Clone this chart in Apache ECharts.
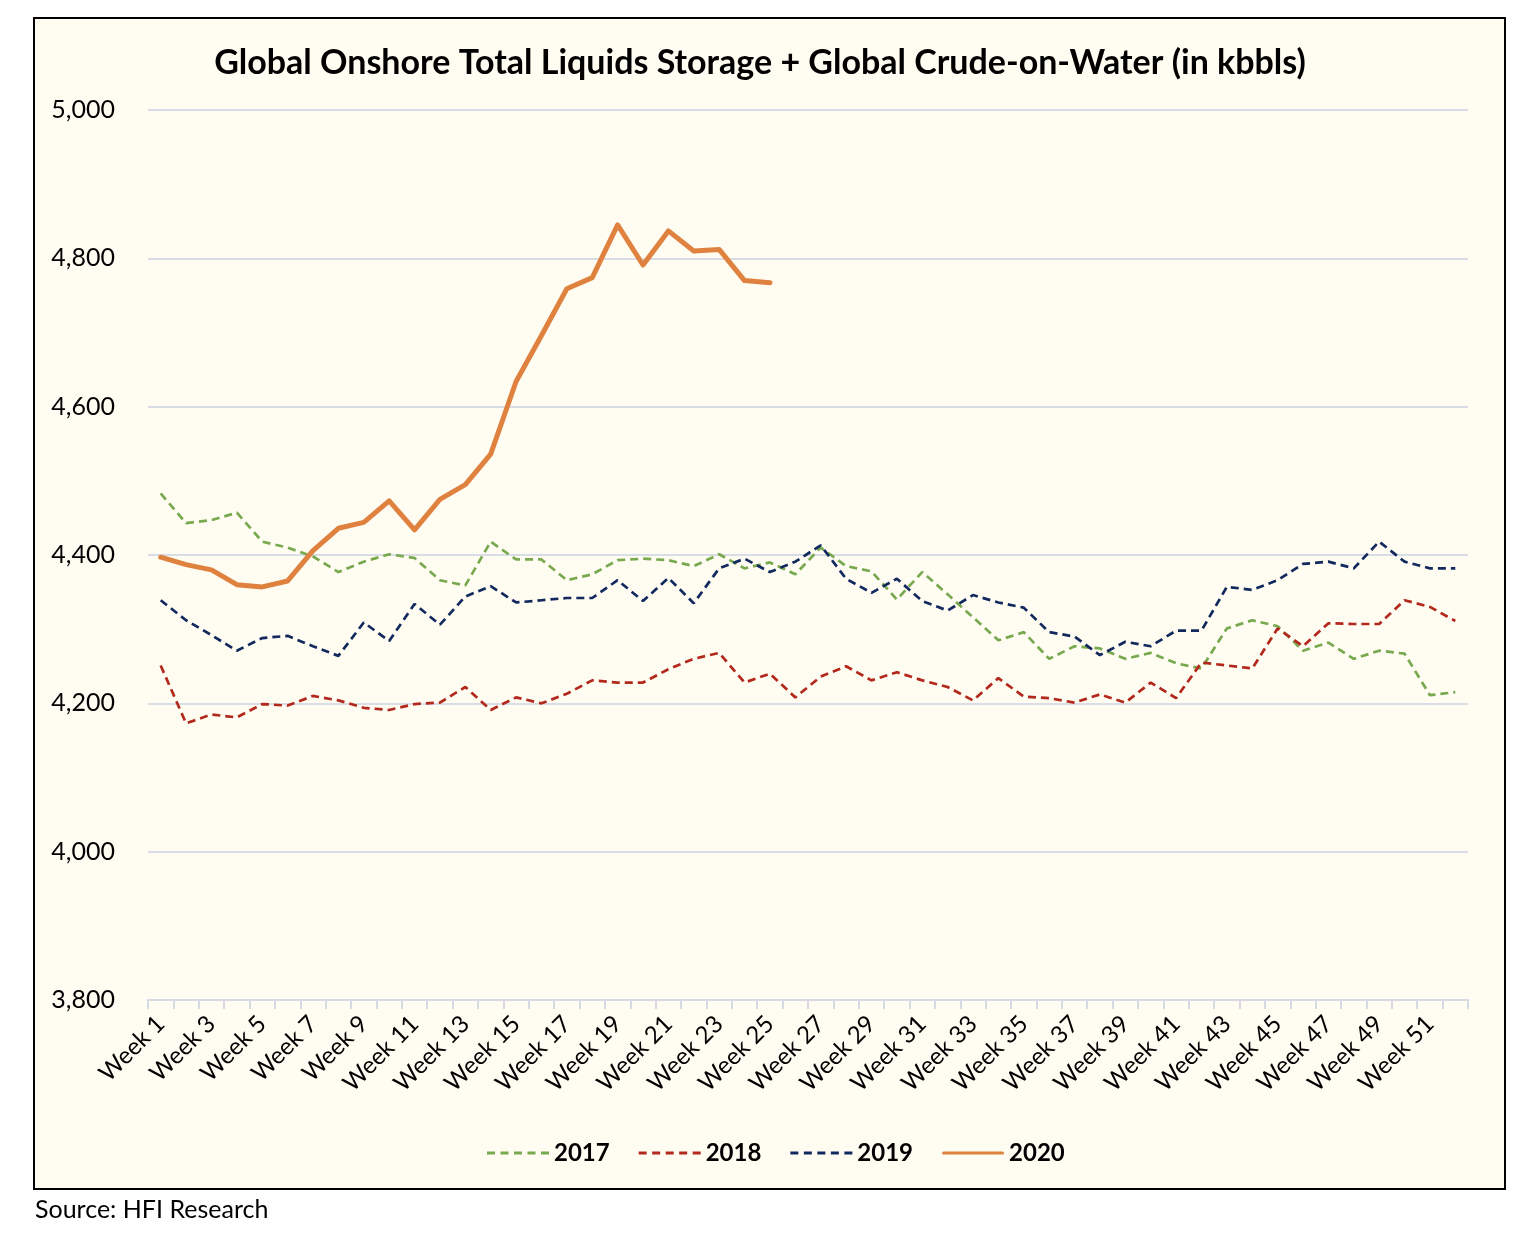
<!DOCTYPE html>
<html>
<head>
<meta charset="utf-8">
<script src="https://cdn.jsdelivr.net/npm/echarts@6/dist/echarts.min.js"></script>
<style>
  html, body { margin: 0; padding: 0; background: #ffffff; }
  #chart { width: 1520px; height: 1240px; }
</style>
</head>
<body>
<div id="chart"></div>
<script>
// weeks 1..52
var weeks = [];
for (var w = 1; w <= 52; w++) weeks.push('Week ' + w);

var y2017 = [4483, 4443, 4447, 4457, 4418, 4410, 4398, 4377, 4391, 4401,
             4396, 4366, 4359, 4418, 4394, 4394, 4366, 4374, 4393, 4395,
             4393, 4385, 4401, 4382, 4390, 4374, 4410, 4385, 4378, 4340,
             4377, 4347, 4316, 4285, 4296, 4260, 4277, 4274, 4260, 4268,
             4254, 4247, 4301, 4312, 4304, 4271, 4282, 4260, 4271, 4267,
             4211, 4215];
var y2018 = [4251, 4173, 4185, 4181, 4199, 4197, 4210, 4204, 4194, 4191,
             4199, 4201, 4222, 4191, 4208, 4200, 4213, 4231, 4228, 4228,
             4246, 4260, 4268, 4228, 4240, 4208, 4236, 4250, 4231, 4242,
             4231, 4222, 4204, 4234, 4209, 4207, 4201, 4212, 4201, 4228,
             4207, 4255, 4251, 4247, 4301, 4277, 4308, 4307, 4307, 4339,
             4330, 4311];
var y2019 = [4339, 4312, 4292, 4271, 4288, 4291, 4277, 4264, 4309, 4284,
             4334, 4306, 4344, 4358, 4336, 4339, 4342, 4342, 4366, 4338,
             4369, 4335, 4382, 4395, 4377, 4391, 4413, 4368, 4349, 4368,
             4338, 4325, 4346, 4336, 4329, 4296, 4290, 4265, 4283, 4277,
             4298, 4298, 4357, 4353, 4366, 4388, 4391, 4382, 4418, 4391,
             4382, 4382];
var y2020 = [4397, 4387, 4380, 4360, 4357, 4365, 4406, 4436, 4444, 4473,
             4434, 4475, 4495, 4536, 4634, 4696, 4759, 4774, 4845, 4791,
             4837, 4810, 4812, 4770, 4767];

var dom = document.getElementById('chart');
var myChart = echarts.init(dom);

var font = 'Lato, "Noto Sans", sans-serif';
var dashIcon = 'path://M0,0h8v3h-8z M13.5,0h8v3h-8z M27,0h8v3h-8z M40.5,0h8v3h-8z M54,0h8v3h-8z';
var solidIcon = 'path://M1.5,0h59a1.5,1.5 0 0 1 0,3h-59a1.5,1.5 0 0 1 0,-3z';

function dashed(name, data, color) {
    return {
        name: name,
        type: 'line',
        data: data,
        symbol: 'none',
        lineStyle: { color: color, width: 2.7, type: [8, 5] },
        itemStyle: { color: color },
        z: 2
    };
}

var option = {
    backgroundColor: '#ffffff',
    animation: false,
    textStyle: { fontFamily: font },
    graphic: [
        {
            type: 'rect',
            shape: { x: 34, y: 18, width: 1471, height: 1171 },
            style: { fill: '#fffcf2', stroke: '#000000', lineWidth: 2 },
            z: -10
        },
        {
            type: 'text',
            left: 35,
            top: 1197,
            style: { text: 'Source: HFI Research', fontSize: 25, fontFamily: font, fill: '#000' }
        }
    ],
    title: {
        text: 'Global Onshore Total Liquids Storage + Global Crude-on-Water (in kbbls)',
        left: 'center',
        top: 41,
        textStyle: { fontSize: 34, fontWeight: 'bold', color: '#000', fontFamily: font }
    },
    legend: {
        top: 1136,
        left: 482,
        itemWidth: 62,
        itemHeight: 4,
        itemGap: 29,
        textStyle: { fontSize: 24, fontWeight: 'bold', color: '#000', fontFamily: font },
        data: [
            { name: '2017', icon: dashIcon },
            { name: '2018', icon: dashIcon },
            { name: '2019', icon: dashIcon },
            { name: '2020', icon: solidIcon }
        ]
    },
    grid: { left: 148, right: 52, top: 110, bottom: 240 },
    xAxis: {
        type: 'category',
        data: weeks,
        boundaryGap: true,
        axisLine: { lineStyle: { color: '#d6dbe3', width: 2 } },
        axisTick: { show: true, interval: 0, length: 9, lineStyle: { color: '#d6dbe3', width: 2 } },
        axisLabel: { interval: 1, rotate: 45, fontSize: 24, color: '#000', margin: 20, fontFamily: font },
        splitLine: { show: false }
    },
    yAxis: {
        type: 'value',
        min: 3800,
        max: 5000,
        interval: 200,
        axisLine: { show: false },
        axisTick: { show: false },
        axisLabel: {
            fontSize: 25, color: '#000', margin: 33, fontFamily: font,
            formatter: function (v) { return v.toLocaleString('en-US'); }
        },
        splitLine: { lineStyle: { color: '#d9dee6', width: 2 } }
    },
    series: [
        dashed('2017', y2017, '#78a94f'),
        dashed('2018', y2018, '#b3281c'),
        dashed('2019', y2019, '#12295e'),
        {
            name: '2020',
            type: 'line',
            data: y2020,
            symbol: 'none',
            lineStyle: { color: '#e0823f', width: 5, cap: 'round', join: 'round' },
            itemStyle: { color: '#e0823f' },
            z: 3
        }
    ]
};

if (option && typeof option === 'object') {
    myChart.setOption(option, true);
}
</script>
</body>
</html>
